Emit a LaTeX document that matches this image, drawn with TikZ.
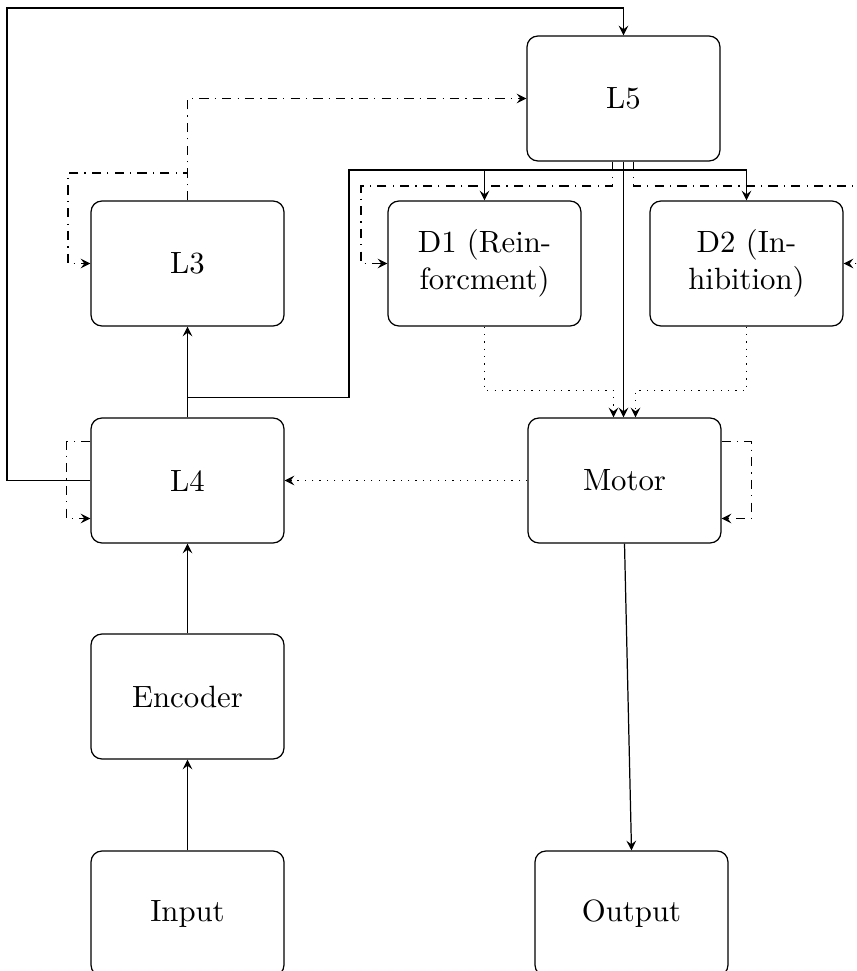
\documentclass[tikz,border=0pt]{standalone}
\usetikzlibrary{calc}
\begin{document}
\begin{tikzpicture}[
  x=0.325pt, y=-0.325pt,
  >=stealth,
  block/.style={draw, rounded corners=3.5pt, minimum width=62.7pt, minimum height=40.6pt,
                align=center, inner sep=2pt},
  dd/.style={dash dot},
  dt/.style={dotted}
]
\clip (0,0) rectangle (856,971);

% blocks
\node[block] (L5)      at (623.5, 98.5) {L5};
\node[block] (L3)      at (187.5,263.5) {L3};
\node[block] (D1)      at (484.5,263.5) {D1 (Rein-\\forcment)};
\node[block] (D2)      at (746.5,263.5) {D2 (In-\\hibition)};
\node[block] (L4)      at (187.5,480.5) {L4};
\node[block] (Motor)   at (624.5,480.5) {Motor};
\node[block] (Encoder) at (187.5,696.5) {Encoder};
\node[block] (Input)   at (187.5,913.5) {Input};
\node[block] (Output)  at (631.5,913.5) {Output};

% feed-forward chain
\draw[->] (Input) -- (Encoder);
\draw[->] (Encoder) -- (L4);
\draw[->] (L4) -- (L3);

% L4 to the dopamine blocks
\draw[->] (L4.north) -- ++(0,-20) -| (349,170) coordinate (split) -| (D1.north);
\draw[->] (split) -| (D2.north);

% L4 back to L5 round the outside
\draw[->] (L4.west) -| (7,8) -| (L5.north);

% L5 to Motor
\draw[->] (L5.south) -- (L5.south |- Motor.north);

% L5 modulation of D1 and D2
\draw[->,dd] ($(L5.south)+(-11,0)$) |- (361,186) |- (D1.west);
\draw[->,dd] ($(L5.south)+(10,0)$) |- (880,186) |- (D2.east);

% L3 to L5 and L3 recurrence
\draw[->,dd] (L3.north) |- (L5.west);
\draw[->,dd] (L3.north) |- (68,173) |- (L3.west);

% recurrent loops on L4 and Motor
\draw[->,dd] ($(L4.west)+(0,-39)$) -- ++(-24,0) |- ($(L4.west)+(0,38)$);
\draw[->,dd] ($(Motor.east)+(0,-39)$) -- ++(30,0) |- ($(Motor.east)+(0,38)$);

% dotted feedback
\draw[->,dt] (Motor.west) -- (L4.east);
\draw[->,dt] (D1.south) |- ($(Motor.north)+(-11,-27)$) -- ($(Motor.north)+(-11,0)$);
\draw[->,dt] (D2.south) |- ($(Motor.north)+(11,-27)$) -- ($(Motor.north)+(11,0)$);

% output
\draw[->] (Motor.south) -- (Output.north);
\end{tikzpicture}
\end{document}
